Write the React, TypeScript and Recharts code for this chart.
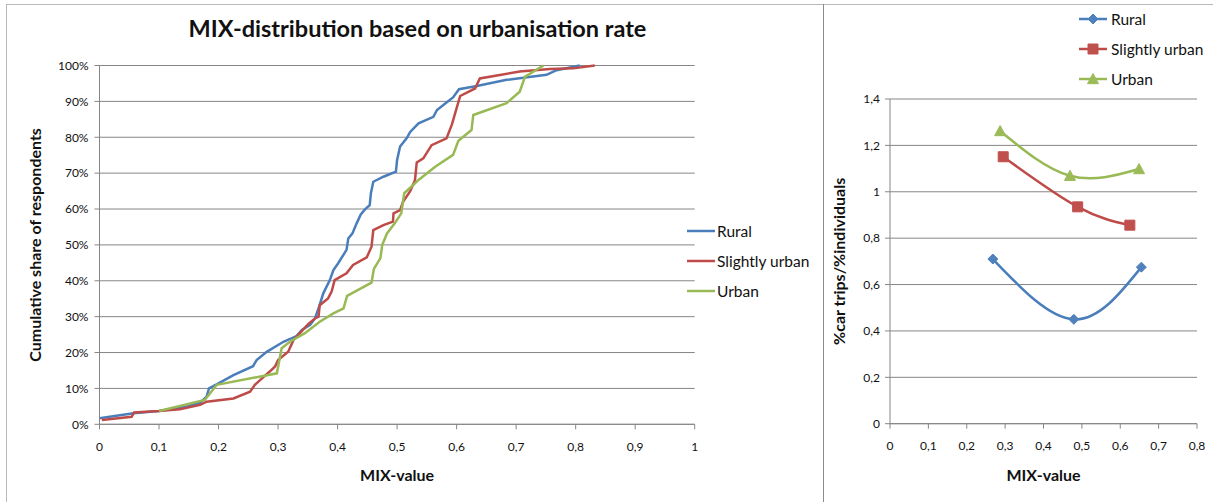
import React from 'react';
import { LineChart, Line, XAxis, YAxis, CartesianGrid, Label } from 'recharts';

const FONT = 'Lato, "Noto Sans", sans-serif';
const GRID = '#868686';
const TEXT = '#111111';

const SERIES_NAMES = ['Rural', 'Slightly urban', 'Urban'];
const LINE_COLORS = ['#4A7EBB', '#BE4B48', '#98B954'];
const MARKER_COLORS = ['#4F81BD', '#C0504D', '#9BBB59'];

// Cumulative share (%) of respondents against MIX-value
const ruralMix = [0, 0.057, 0.1, 0.146, 0.169, 0.18, 0.184, 0.2, 0.225, 0.258, 0.264, 0.281, 0.309, 0.331, 0.34, 0.354, 0.362, 0.369, 0.376, 0.387, 0.393, 0.401, 0.415, 0.418, 0.425, 0.432, 0.439, 0.446, 0.454, 0.456, 0.46, 0.477, 0.498, 0.5, 0.505, 0.516, 0.522, 0.536, 0.561, 0.567, 0.583, 0.594, 0.604, 0.634, 0.684, 0.751, 0.768, 0.807];
const ruralShare = [1.7, 3.1, 3.7, 4.9, 6.0, 7.7, 10.0, 11.4, 13.7, 16.2, 17.9, 20.2, 23.0, 24.6, 26.3, 27.7, 29.5, 32.8, 36.5, 40.2, 43.0, 44.9, 48.6, 51.8, 53.2, 56.0, 58.5, 59.9, 61.1, 64.4, 67.6, 69.0, 70.4, 73.7, 77.4, 79.7, 81.5, 83.9, 85.7, 87.6, 89.7, 91.1, 93.4, 94.3, 96.0, 97.4, 98.7, 100];

const slightMix = [0.004, 0.054, 0.058, 0.1, 0.135, 0.169, 0.18, 0.225, 0.253, 0.261, 0.273, 0.286, 0.295, 0.3, 0.317, 0.326, 0.337, 0.351, 0.362, 0.368, 0.37, 0.384, 0.39, 0.395, 0.415, 0.426, 0.449, 0.457, 0.46, 0.477, 0.493, 0.494, 0.505, 0.51, 0.522, 0.53, 0.533, 0.544, 0.558, 0.583, 0.592, 0.6, 0.606, 0.631, 0.639, 0.706, 0.757, 0.796, 0.832];
const slightShare = [1.2, 2.1, 3.3, 3.7, 4.2, 5.4, 6.3, 7.2, 9.1, 11.0, 12.8, 14.7, 16.1, 17.9, 20.2, 23.5, 25.5, 28.0, 29.5, 30.0, 33.2, 35.1, 37.0, 40.2, 42.1, 44.4, 46.5, 49.5, 54.1, 55.5, 56.5, 58.8, 59.7, 62.0, 65.0, 68.0, 73.0, 74.1, 77.8, 79.7, 83.5, 88.1, 91.5, 93.6, 96.4, 98.3, 99.0, 99.2, 100];

const urbanMix = [0.1, 0.177, 0.197, 0.298, 0.306, 0.32, 0.345, 0.37, 0.393, 0.41, 0.416, 0.457, 0.461, 0.472, 0.475, 0.483, 0.496, 0.507, 0.512, 0.527, 0.536, 0.564, 0.594, 0.603, 0.625, 0.628, 0.684, 0.706, 0.715, 0.746];
const urbanShare = [3.7, 6.8, 11.0, 14.2, 21.2, 23.0, 25.4, 28.6, 30.9, 32.3, 35.8, 39.5, 43.3, 46.3, 50.0, 53.2, 56.0, 58.8, 64.4, 66.7, 68.1, 71.8, 75.1, 79.0, 82.0, 86.2, 89.5, 92.7, 96.9, 100];

// Ratio of car-trip share to individual share, per urbanisation class
const ratioMixRural = [0.268, 0.479, 0.655];
const ratioRural = [0.71, 0.45, 0.675];
const ratioMixSlight = [0.295, 0.489, 0.625];
const ratioSlight = [1.151, 0.935, 0.856];
const ratioMixUrban = [0.287, 0.469, 0.649];
const ratioUrban = [1.262, 1.069, 1.098];

const leftXTicks = [0, 0.1, 0.2, 0.3, 0.4, 0.5, 0.6, 0.7, 0.8, 0.9, 1];
const leftYTicks = [0, 10, 20, 30, 40, 50, 60, 70, 80, 90, 100];
const rightXTicks = [0, 0.1, 0.2, 0.3, 0.4, 0.5, 0.6, 0.7, 0.8];
const rightYTicks = [0, 0.2, 0.4, 0.6, 0.8, 1, 1.2, 1.4];

const TITLE = 'MIX-distribution based on urbanisation rate';
const X_LABEL = 'MIX-value';
const LEFT_Y_LABEL = 'Cumulative share of respondents';
const RIGHT_Y_LABEL = '%car trips/%individuals';

const zip = (xs: number[], ys: number[]) => xs.map((x, i) => ({ x, y: ys[i] }));

const cdfSeries = [zip(ruralMix, ruralShare), zip(slightMix, slightShare), zip(urbanMix, urbanShare)];
const ratioSeries = [zip(ratioMixRural, ratioRural), zip(ratioMixSlight, ratioSlight), zip(ratioMixUrban, ratioUrban)];

const comma = (v: number) => String(v).replace('.', ',');

const tickStyle = { fill: TEXT, fontSize: 12, fontFamily: FONT };
const axisLabelStyle = { fill: TEXT, fontSize: 16, fontWeight: 700, fontFamily: FONT, textAnchor: 'middle' as const };

type MarkerKind = 'diamond' | 'square' | 'triangle';
const MARKERS: MarkerKind[] = ['diamond', 'square', 'triangle'];

function markerPath(kind: MarkerKind, cx: number, cy: number): string {
  if (kind === 'diamond') {
    const r = 5;
    return `M${cx},${cy - r}L${cx + r},${cy}L${cx},${cy + r}L${cx - r},${cy}Z`;
  }
  if (kind === 'square') {
    const r = 5;
    return `M${cx - r},${cy - r}H${cx + r}V${cy + r}H${cx - r}Z`;
  }
  const r = 5.5;
  return `M${cx},${cy - r}L${cx + r},${cy + r * 0.85}L${cx - r},${cy + r * 0.85}Z`;
}

const makeDot = (idx: number) => (props: any) => {
  const { cx, cy, index } = props;
  if (cx == null || cy == null) return <g key={`d-${idx}-${index}`} />;
  return (
    <path
      key={`d-${idx}-${index}`}
      d={markerPath(MARKERS[idx], cx, cy)}
      fill={MARKER_COLORS[idx]}
      stroke={MARKER_COLORS[idx]}
      strokeWidth={1}
    />
  );
};

function CdfLegend() {
  return (
    <div style={{ position: 'absolute', left: 686, top: 216, fontFamily: FONT, fontSize: 15.5, color: TEXT }}>
      {SERIES_NAMES.map((name, i) => (
        <div key={name} style={{ display: 'flex', alignItems: 'center', height: 30 }}>
          <svg width={30} height={10} style={{ display: 'block' }}>
            <line x1={1} y1={5} x2={29} y2={5} stroke={LINE_COLORS[i]} strokeWidth={2.5} />
          </svg>
          <span style={{ marginLeft: 1, whiteSpace: 'nowrap' }}>{name}</span>
        </div>
      ))}
    </div>
  );
}

function RatioLegend() {
  return (
    <div style={{ position: 'absolute', left: 1078, top: 4, fontFamily: FONT, fontSize: 15.5, color: TEXT }}>
      {SERIES_NAMES.map((name, i) => (
        <div key={name} style={{ display: 'flex', alignItems: 'center', height: 30 }}>
          <svg width={30} height={14} style={{ display: 'block' }}>
            <line x1={1} y1={7} x2={29} y2={7} stroke={LINE_COLORS[i]} strokeWidth={2.5} />
            <path d={markerPath(MARKERS[i], 15, 7)} fill={MARKER_COLORS[i]} stroke={MARKER_COLORS[i]} strokeWidth={1} />
          </svg>
          <span style={{ marginLeft: 3, whiteSpace: 'nowrap' }}>{name}</span>
        </div>
      ))}
    </div>
  );
}

export default function App() {
  return (
    <div style={{ position: 'absolute', left: 0, top: 0, width: 1213, height: 502, background: '#fff', overflow: 'hidden' }}>
      {/* frame lines around the two panels */}
      <div style={{ position: 'absolute', left: 6, top: 4, width: 1207, height: 1, background: '#b8b8b8' }} />
      <div style={{ position: 'absolute', left: 6, top: 4, width: 1, height: 498, background: '#b8b8b8' }} />
      <div style={{ position: 'absolute', left: 823, top: 4, width: 1, height: 498, background: '#8c8c8c' }} />

      <div style={{ position: 'absolute', left: 0, top: 0 }}>
        <LineChart width={823} height={502} margin={{ top: 65.5, right: 128.3, bottom: 17.7, left: 4.5 }}>
          <CartesianGrid vertical={false} stroke={GRID} strokeWidth={1} />
          <XAxis
            dataKey="x"
            type="number"
            domain={[0, 1]}
            ticks={leftXTicks}
            tickFormatter={comma}
            stroke={GRID}
            tickSize={5}
            tickMargin={13}
            height={60}
            tick={tickStyle}
          >
            <Label value={X_LABEL} position="insideBottom" offset={3} style={axisLabelStyle} />
          </XAxis>
          <YAxis
            type="number"
            domain={[0, 100]}
            ticks={leftYTicks}
            tickFormatter={(v: number) => `${v}%`}
            stroke={GRID}
            tickSize={5}
            tickMargin={6}
            width={95}
            tick={tickStyle}
          >
            <Label value={LEFT_Y_LABEL} angle={-90} position="insideLeft" offset={30.5} style={axisLabelStyle} />
          </YAxis>
          {cdfSeries.map((pts, i) => (
            <Line
              key={SERIES_NAMES[i]}
              data={pts}
              dataKey="y"
              name={SERIES_NAMES[i]}
              type="linear"
              stroke={LINE_COLORS[i]}
              strokeWidth={2.5}
              dot={false}
              activeDot={false}
              isAnimationActive={false}
            />
          ))}
        </LineChart>
      </div>
      <div
        style={{
          position: 'absolute',
          left: 0,
          width: 835,
          top: 14,
          textAlign: 'center',
          fontFamily: FONT,
          fontWeight: 700,
          fontSize: 23.5,
          color: TEXT,
        }}
      >
        {TITLE}
      </div>
      <CdfLegend />

      <div style={{ position: 'absolute', left: 823, top: 0 }}>
        <LineChart width={390} height={502} margin={{ top: 99, right: 16, bottom: 18.3, left: 2 }}>
          <CartesianGrid vertical={false} stroke={GRID} strokeWidth={1} />
          <XAxis
            dataKey="x"
            type="number"
            domain={[0, 0.8]}
            ticks={rightXTicks}
            tickFormatter={comma}
            stroke={GRID}
            tickSize={5}
            tickMargin={13}
            height={60}
            tick={tickStyle}
          >
            <Label value={X_LABEL} position="insideBottom" offset={3} style={axisLabelStyle} />
          </XAxis>
          <YAxis
            type="number"
            domain={[0, 1.4]}
            ticks={rightYTicks}
            tickFormatter={comma}
            stroke={GRID}
            tickSize={5}
            tickMargin={5}
            width={65}
            tick={tickStyle}
          >
            <Label value={RIGHT_Y_LABEL} angle={-90} position="insideLeft" offset={14} style={axisLabelStyle} />
          </YAxis>
          {ratioSeries.map((pts, i) => (
            <Line
              key={SERIES_NAMES[i]}
              data={pts}
              dataKey="y"
              name={SERIES_NAMES[i]}
              type="natural"
              stroke={LINE_COLORS[i]}
              strokeWidth={2.5}
              dot={makeDot(i)}
              activeDot={false}
              isAnimationActive={false}
            />
          ))}
        </LineChart>
      </div>
      <RatioLegend />
    </div>
  );
}
